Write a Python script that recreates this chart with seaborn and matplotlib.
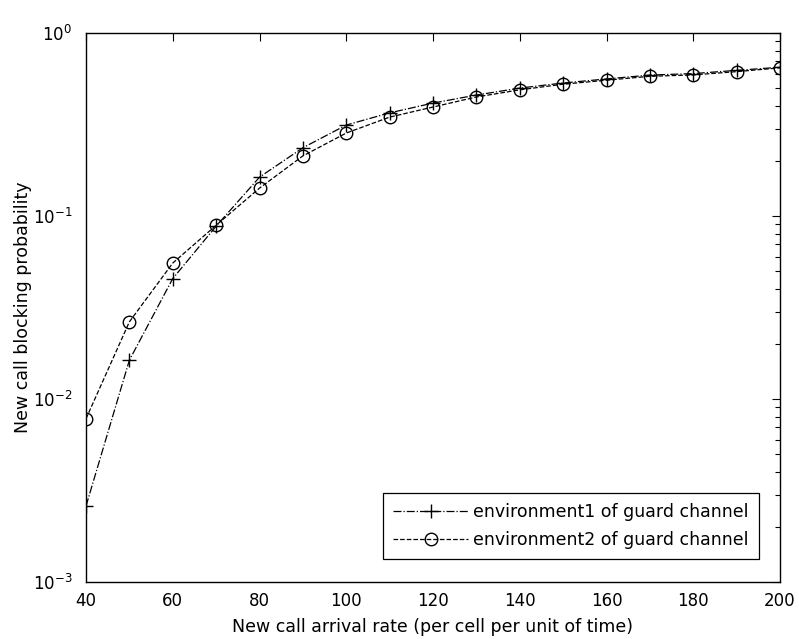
import matplotlib
matplotlib.use("Agg")
import matplotlib.pyplot as plt
import seaborn as sns
import numpy as np
from matplotlib.ticker import LogLocator, FixedLocator

# ---- data ----
arrival_rate = [40, 50, 60, 70, 80, 90, 100, 110, 120, 130, 140, 150, 160, 170, 180, 190, 200]
env1_blocking = [0.0026, 0.0163, 0.0455, 0.088, 0.163, 0.236, 0.314, 0.366, 0.414, 0.458,
                 0.500, 0.533, 0.561, 0.589, 0.600, 0.625, 0.650]
env2_blocking = [0.0078, 0.0264, 0.0553, 0.089, 0.142, 0.213, 0.284, 0.347, 0.394, 0.447,
                 0.489, 0.525, 0.552, 0.580, 0.590, 0.615, 0.645]
label_env1 = "environment1 of guard channel"
label_env2 = "environment2 of guard channel"
x_ticks = [40, 60, 80, 100, 120, 140, 160, 180, 200]
x_label = "New call arrival rate (per cell per unit of time)"
y_label = "New call blocking probability"

sns.set_style("white")
plt.rcParams['font.family'] = ['DejaVu Sans']
plt.rcParams['mathtext.fontset'] = 'dejavusans'
plt.rcParams['text.color'] = 'black'
plt.rcParams['axes.labelcolor'] = 'black'

fig = plt.figure(figsize=(7.99, 6.39), dpi=100)
ax = fig.add_axes([86/799, (639-582)/639, (780-86)/799, (582-33)/639])

sns.lineplot(x=arrival_rate, y=env1_blocking, ax=ax, color='black', linestyle='-.',
             linewidth=0.9, marker='+', markersize=10, markeredgewidth=1.0,
             markeredgecolor='black', label=label_env1)
sns.lineplot(x=arrival_rate, y=env2_blocking, ax=ax, color='black', linestyle='--',
             linewidth=0.9, marker='o', markersize=9, markerfacecolor='none',
             markeredgecolor='black', markeredgewidth=1.0, label=label_env2)

ax.set_yscale('log')
ax.set_xlim(40, 200)
ax.set_ylim(1e-3, 1e0)
ax.xaxis.set_major_locator(FixedLocator(x_ticks))
ax.yaxis.set_major_locator(LogLocator(base=10, numticks=10))
ax.yaxis.set_minor_locator(LogLocator(base=10, subs=np.arange(2, 10), numticks=20))

ax.tick_params(axis='both', which='both', direction='in', top=True, right=True,
               colors='black', labelsize=12)
ax.tick_params(axis='both', which='major', length=6, width=0.8)
ax.tick_params(axis='y', which='minor', length=3.5, width=0.8)
ax.tick_params(axis='x', which='major', pad=7)
ax.tick_params(axis='y', which='major', pad=10)

for s in ax.spines.values():
    s.set_color('black')
    s.set_linewidth(1.0)
    s.set_visible(True)

ax.set_xlabel(x_label, fontsize=12.5, labelpad=6, color='black')
ax.set_ylabel(y_label, fontsize=12.5, color='black')
ax.yaxis.set_label_coords((32 - 86) / 694, 0.5)
ax.grid(False)

leg = ax.legend(loc='lower right', bbox_to_anchor=((759-86)/(780-86), (582-559)/(582-33)),
                fontsize=12.5, frameon=True, fancybox=False, shadow=False,
                handlelength=4.3, borderaxespad=0, labelspacing=0.55,
                handletextpad=0.3, borderpad=0.6, framealpha=1)
leg.get_frame().set_edgecolor('black')
leg.get_frame().set_linewidth(0.9)
for t in leg.get_texts():
    t.set_color('black')

fig.savefig("out.png", dpi=100)
